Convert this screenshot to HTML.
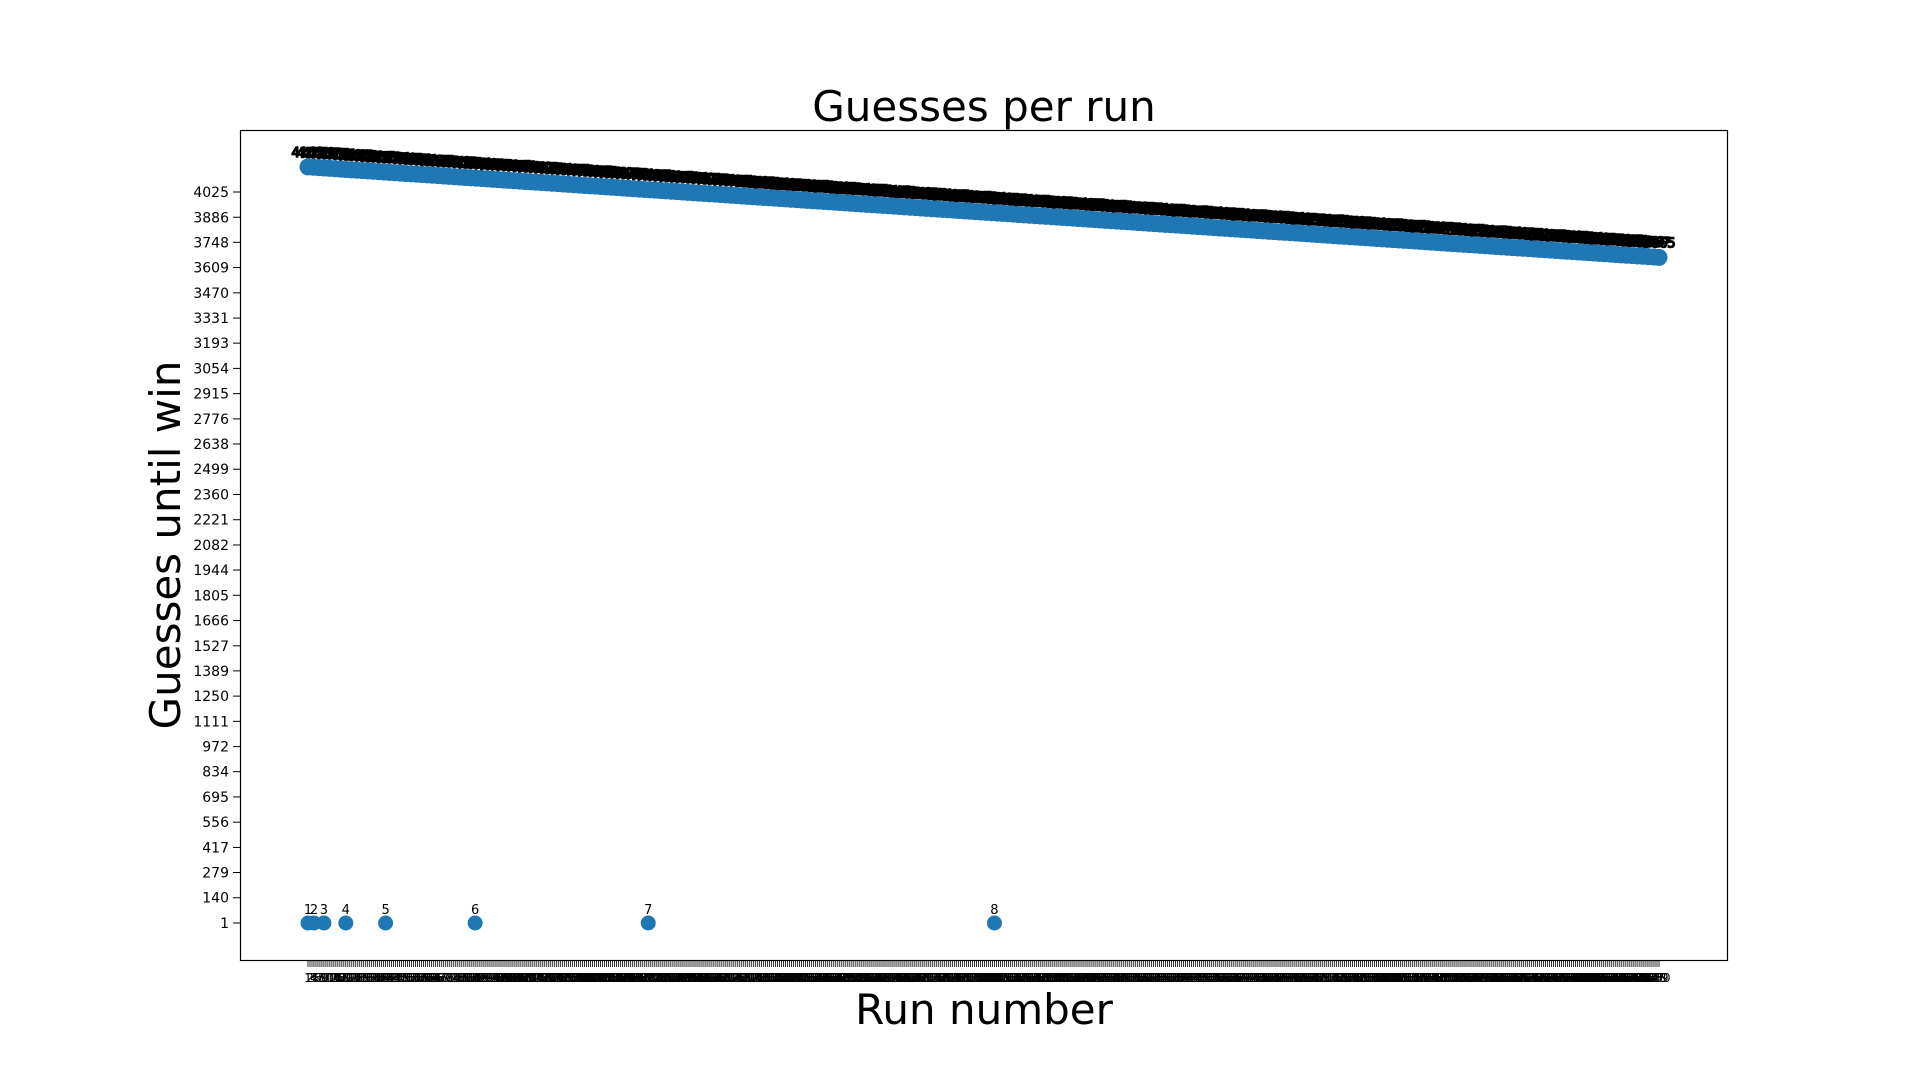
<!DOCTYPE html>
<html><head><meta charset="utf-8"><style>
html,body{margin:0;padding:0;background:#fff;}
svg{display:block;font-family:"DejaVu Sans","Liberation Sans",sans-serif;}
</style></head><body>
<svg id="chart" width="1920" height="1080" viewBox="0 0 1920 1080">
<rect x="0" y="0" width="1920" height="1080" fill="#fff"/>
<text x="984" y="121" font-size="42" text-anchor="middle">Guesses per run</text>
<text x="984" y="1024" font-size="42" text-anchor="middle">Run number</text>
<text x="0" y="0" font-size="42" text-anchor="middle" transform="translate(180,545) rotate(-90)">Guesses until win</text>
<g id="marks"></g>
<rect x="240.5" y="130.5" width="1487" height="830" fill="none" stroke="#000" stroke-width="1.2"/>
</svg>
<script>
const yTicks=[1,140,279,417,556,695,834,972,1111,1250,1389,1527,1666,1805,1944,2082,2221,2360,2499,2638,2776,2915,3054,3193,3331,3470,3609,3748,3886,4025];
const runCount=680;
const earlyRuns=[1,4,9,20,40,85,172,346];
const earlyLabels=[1,2,3,4,5,6,7,8];
const earlyValues=[1,1,1,1,1,1,1,1];
const lineValues=[
4163,4161,4159,4157,4155,4153,4151,4149,4147,4145,
4143,4141,4139,4137,4135,4133,4131,4129,4127,4125,
4123,4121,4119,4117,4115,4113,4111,4109,4107,4105,
4103,4101,4099,4097,4095,4093,4091,4089,4087,4085,
4083,4081,4079,4077,4075,4073,4071,4069,4067,4065,
4063,4061,4059,4057,4055,4053,4051,4049,4047,4045,
4043,4041,4039,4037,4035,4033,4031,4029,4027,4025,
4023,4021,4019,4017,4015,4013,4011,4009,4007,4005,
4003,4001,3999,3997,3995,3993,3991,3989,3987,3985,
3983,3981,3979,3977,3975,3973,3971,3969,3967,3965,
3963,3961,3959,3957,3955,3953,3951,3949,3947,3945,
3943,3941,3939,3937,3935,3933,3931,3929,3927,3925,
3923,3921,3919,3917,3915,3913,3911,3909,3907,3905,
3903,3901,3899,3897,3895,3893,3891,3889,3887,3885,
3883,3881,3879,3877,3875,3873,3871,3869,3867,3865,
3863,3861,3859,3857,3855,3853,3851,3849,3847,3845,
3843,3841,3839,3837,3835,3833,3831,3829,3827,3825,
3823,3821,3819,3817,3815,3813,3811,3809,3807,3805,
3803,3801,3799,3797,3795,3793,3791,3789,3787,3785,
3783,3781,3779,3777,3775,3773,3771,3769,3767,3765,
3763,3761,3759,3757,3755,3753,3751,3749,3747,3745,
3743,3741,3739,3737,3735,3733,3731,3729,3727,3725,
3723,3721,3719,3717,3715,3713,3711,3709,3707,3705,
3703,3701,3699,3697,3695,3693,3691,3689,3687,3685,
3683,3681,3679,3677,3675,3673,3671,3669,3667,3665];
const NS='http://www.w3.org/2000/svg';
const g=document.getElementById('marks');
function xScale(r){return 308+(r-1)*(1659-308)/(runCount-1);}
function yScale(v){return 923-(v-1)*(923-192)/4024;}
function lineRun(i){return 1+i*(runCount-1)/(lineValues.length-1);}
function mk(tag,attrs){const e=document.createElementNS(NS,tag);for(const k in attrs)e.setAttribute(k,attrs[k]);g.appendChild(e);return e;}
yTicks.forEach(v=>{
  const y=yScale(v);
  const t=mk('line',{x1:233,x2:240,y1:y,y2:y,stroke:'#000','stroke-width':1});
  
  
  const l=mk('text',{x:229,y:y+5,'font-size':14,'text-anchor':'end'});
  l.textContent=v;
  
  
});
for(let r=1;r<=runCount;r++){
  const x=xScale(r);
  const t=mk('line',{x1:x,x2:x,y1:961,y2:967,stroke:'#000','stroke-width':0.8});
  
  
  const l=mk('text',{x:x,y:982,'font-size':12,'text-anchor':'middle'});
  l.textContent=r;
  
  
}
lineValues.forEach((v,i)=>{
  const c=mk('circle',{cx:xScale(lineRun(i)),cy:yScale(v),r:8.5,fill:'#1f77b4'});
  
  
});
lineValues.forEach((v,i)=>{
  const l=mk('text',{x:xScale(lineRun(i)),y:yScale(v)-10,'font-size':13,'text-anchor':'middle',stroke:'#000','stroke-width':1.5});
  l.textContent=v;
  
  
});
earlyRuns.forEach((r,i)=>{
  const c=mk('circle',{cx:xScale(r),cy:yScale(earlyValues[i]),r:7.5,fill:'#1f77b4'});
  
  
  const l=mk('text',{x:xScale(r),y:yScale(earlyValues[i])-9,'font-size':13,'text-anchor':'middle'});
  l.textContent=earlyLabels[i];
  
  
});
</script>
</body></html>
